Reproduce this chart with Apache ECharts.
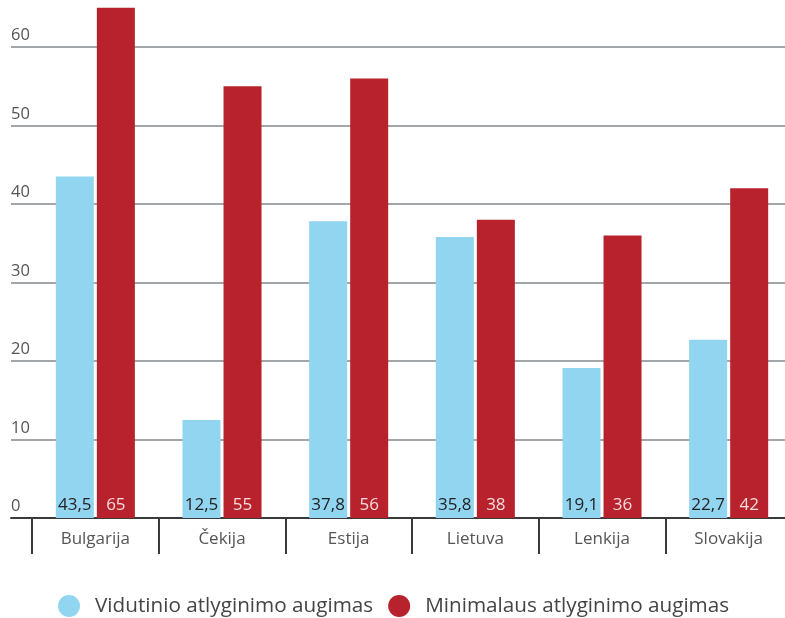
<!DOCTYPE html>
<html>
<head>
<meta charset="utf-8">
<script src="https://cdn.jsdelivr.net/npm/echarts@6/dist/echarts.min.js"></script>
<style>
  html, body { margin: 0; padding: 0; background: #fff; }
  #chart { width: 785px; height: 618px; }
</style>
</head>
<body>
<div id="chart"></div>
<script>
// duomenys
var countries = ['Bulgarija', 'Čekija', 'Estija', 'Lietuva', 'Lenkija', 'Slovakija'];
var avgWage = [43.5, 12.5, 37.8, 35.8, 19.1, 22.7];
var minWage = [65, 55, 56, 38, 36, 42];
var seriesNames = ['Vidutinio atlyginimo augimas', 'Minimalaus atlyginimo augimas'];

var FONT = '"Open Sans", sans-serif';
var fmt = function (p) { return String(p.value).replace('.', ','); };

var myChart = echarts.init(document.getElementById('chart'));
var option = {
  animation: false,
  textStyle: { fontFamily: FONT },
  legend: {
    left: 58,
    top: 595,
    padding: 0,
    itemWidth: 22,
    itemHeight: 22,
    itemGap: 15,
    icon: 'circle',
    textStyle: { fontSize: 20.7, color: '#444', fontFamily: FONT, padding: [0, 0, 0, 10] },
    data: seriesNames
  },
  grid: [
    // tik tinklelio linijoms ir y ašies žymoms
    { left: 11, right: 0, top: 47, bottom: 100, outerBoundsMode: 'none' },
    // stulpeliams (paskutinė riba už paveikslo krašto)
    { left: 32, width: 760, top: 47, bottom: 100, outerBoundsMode: 'none' }
  ],
  xAxis: [
    {
      gridIndex: 0, type: 'category', data: [''],
      axisLine: { lineStyle: { color: '#3a3a3a', width: 2 } },
      axisTick: { show: false }, axisLabel: { show: false }
    },
    {
      gridIndex: 1, type: 'category', data: countries,
      axisLine: { show: false },
      axisTick: { show: true, length: 36, lineStyle: { color: '#3a3a3a', width: 2 } },
      axisLabel: { margin: 13, fontSize: 17, color: '#555', fontFamily: FONT }
    }
  ],
  yAxis: [
    {
      gridIndex: 0, type: 'value', min: 0, max: 60, interval: 10,
      axisLine: { show: false }, axisTick: { show: false },
      splitLine: { lineStyle: { color: '#a3a6a9', width: 2 } },
      axisLabel: {
        inside: true, margin: 0, fontSize: 16.5, color: '#555',
        verticalAlign: 'bottom', padding: [0, 0, 3, 0], fontFamily: FONT
      }
    },
    {
      gridIndex: 1, type: 'value', min: 0, max: 60, interval: 10,
      show: false, splitLine: { show: false }
    }
  ],
  series: [
    {
      name: seriesNames[0], type: 'bar', xAxisIndex: 1, yAxisIndex: 1,
      data: avgWage, barWidth: 38, barGap: '8%', clip: false,
      itemStyle: { color: '#92d5f0' },
      label: {
        show: true, position: 'insideBottom', distance: 4,
        fontSize: 17, color: '#222', formatter: fmt, fontFamily: FONT
      }
    },
    {
      name: seriesNames[1], type: 'bar', xAxisIndex: 1, yAxisIndex: 1,
      data: minWage, barWidth: 38, clip: false,
      itemStyle: { color: '#b7222d' },
      label: {
        show: true, position: 'insideBottom', distance: 4,
        fontSize: 17, color: '#f6dcdc', formatter: fmt, fontFamily: FONT
      }
    }
  ]
};
myChart.setOption(option);
</script>
</body>
</html>
